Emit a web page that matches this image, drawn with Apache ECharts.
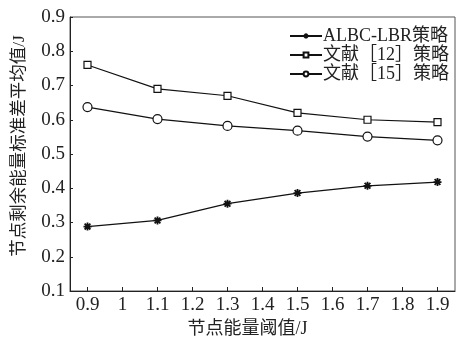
<!DOCTYPE html>
<html>
<head>
<meta charset="utf-8">
<script src="https://cdn.jsdelivr.net/npm/echarts@6/dist/echarts.min.js"></script>
<style>
  html, body { margin: 0; padding: 0; background: #fff; }
  #main { width: 457px; height: 343px; }
</style>
</head>
<body>
<div id="main"></div>
<script>
var thresholds = [0.9, 1.1, 1.3, 1.5, 1.7, 1.9];
var xTicks = [0.9, 1.0, 1.1, 1.2, 1.3, 1.4, 1.5, 1.6, 1.7, 1.8, 1.9];
var albcLbr = [0.288, 0.306, 0.355, 0.386, 0.407, 0.418];
var ref12 = [0.760, 0.690, 0.670, 0.620, 0.600, 0.593];
var ref15 = [0.637, 0.602, 0.582, 0.568, 0.551, 0.540];
var seriesNames = ['ALBC-LBR策略', '文献［12］策略', '文献［15］策略'];

var font = "'Liberation Serif', 'Noto Sans CJK SC', serif";
var star = 'path://M0,-5L0,5M-5,0L5,0M-3.6,-3.6L3.6,3.6M-3.6,3.6L3.6,-3.6';

function pairs(vals) {
  return thresholds.map(function (t, i) { return [t, vals[i]]; });
}

var chart = echarts.init(document.getElementById('main'), null, { renderer: 'canvas' });

var option = {
  animation: false,
  backgroundColor: '#fff',
  grid: {
    left: 70, right: 2, top: 17, bottom: 41,
    show: true, borderColor: '#555', borderWidth: 1
  },
  legend: {
    right: 3, top: 22,
    orient: 'vertical',
    itemWidth: 32, itemHeight: 6, itemGap: 1,
    textStyle: { fontFamily: font, fontSize: 18, color: '#222', padding: [0, 0, 0, -4] },
    data: seriesNames
  },
  xAxis: {
    type: 'value',
    min: 0.85, max: 1.95,
    name: '节点能量阈值/J',
    nameLocation: 'middle',
    nameGap: 29,
    nameTextStyle: { fontFamily: font, fontSize: 18, color: '#222', padding: [0, 30, 0, 0] },
    axisLine: { lineStyle: { color: '#222', width: 1 } },
    axisTick: { inside: true, length: 4, customValues: xTicks, lineStyle: { color: '#222' } },
    axisLabel: {
      customValues: xTicks,
      fontFamily: font, fontSize: 19, color: '#222', margin: 5,
      formatter: function (v) { return String(Math.round(v * 10) / 10); }
    },
    splitLine: { show: false }
  },
  yAxis: {
    type: 'value',
    min: 0.1, max: 0.9, interval: 0.1,
    name: '节点剩余能量标准差平均值/J',
    nameLocation: 'middle',
    nameGap: 42,
    nameTextStyle: { fontFamily: font, fontSize: 17.5, color: '#222', padding: [0, 0, 0, 16] },
    axisLine: { lineStyle: { color: '#222', width: 1 } },
    axisTick: { inside: true, length: 3, lineStyle: { color: '#222' } },
    axisLabel: {
      fontFamily: font, fontSize: 19, color: '#222', margin: 5,
      formatter: function (v) { return v.toFixed(1); }
    },
    splitLine: { show: false }
  },
  series: [
    {
      name: seriesNames[0], type: 'line',
      data: pairs(albcLbr),
      symbol: star, symbolSize: 8,
      lineStyle: { color: '#111', width: 1.2 },
      itemStyle: { color: '#111', borderColor: '#111', borderWidth: 1.8 }
    },
    {
      name: seriesNames[1], type: 'line',
      data: pairs(ref12),
      symbol: 'rect', symbolSize: 7,
      lineStyle: { color: '#111', width: 1.2 },
      itemStyle: { color: '#fff', borderColor: '#111', borderWidth: 1.2 }
    },
    {
      name: seriesNames[2], type: 'line',
      data: pairs(ref15),
      symbol: 'circle', symbolSize: 9,
      lineStyle: { color: '#111', width: 1.2 },
      itemStyle: { color: '#fff', borderColor: '#111', borderWidth: 1.2 }
    }
  ]
};

chart.setOption(option);
</script>
</body>
</html>
